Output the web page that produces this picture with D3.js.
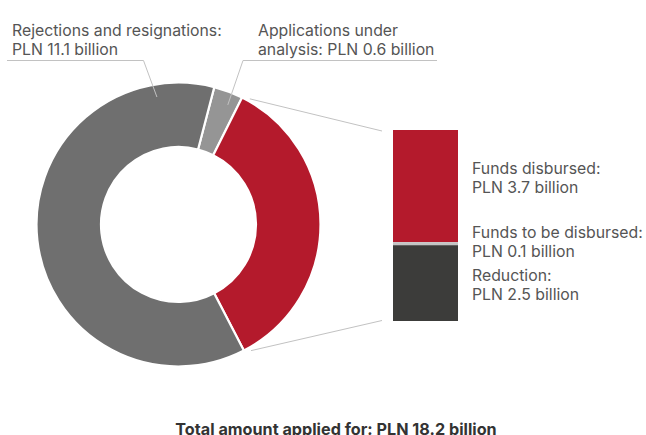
<!DOCTYPE html>
<html>
<head>
<meta charset="utf-8">
<script src="https://cdn.jsdelivr.net/npm/d3@7"></script>
<style>
  html, body { margin: 0; padding: 0; background: #fff; }
  svg { display: block; font-family: Inter, "Noto Sans", sans-serif; }
</style>
</head>
<body>
<svg id="chart" width="646" height="435"></svg>
<script>
// Breakdown of the amount applied for (PLN billion)
const donutCategories = ["Applications under analysis", "Approved", "Rejections and resignations"];
const barCategories = ["Funds disbursed", "Funds to be disbursed", "Reduction"];
const barValues = [3.7, 0.1, 2.5];
const donutValues = [0.6, d3.sum(barValues), 11.1];
const donutLabels = [
  ["Applications under", "analysis: PLN 0.6 billion"],
  null,
  ["Rejections and resignations:", "PLN 11.1 billion"]
];
const barLabels = [
  ["Funds disbursed:", "PLN 3.7 billion"],
  ["Funds to be disbursed:", "PLN 0.1 billion"],
  ["Reduction:", "PLN 2.5 billion"]
];
const totalLabel = "Total amount applied for: PLN 18.2 billion";

const donutColors = ["#959595", "#b41a2c", "#6f6f6f"];
const barColors = ["#b41a2c", "#c4c4c4", "#3c3c3a"];
const textColor = "#555555";
const ruleColor = "#c2c2c2";
const labelSize = 15.8;

const svg = d3.select("#chart");
const cx = 178.5, cy = 224.5, rOuter = 142, rInner = 77.5;
const deg = Math.PI / 180;
const start = 14.6 * deg;

const pie = d3.pie().sort(null).startAngle(start).endAngle(start + 2 * Math.PI);
const arcs = pie(donutValues);
const arc = d3.arc().innerRadius(rInner).outerRadius(rOuter);

const g = svg.append("g").attr("transform", `translate(${cx},${cy})`);
g.selectAll("path")
  .data(arcs)
  .join("path")
  .attr("d", arc)
  .attr("fill", (d, i) => donutColors[i])
  .attr("stroke", "#fff")
  .attr("stroke-width", 2.2)
  .attr("stroke-linejoin", "miter");

// Stacked bar detailing the approved slice
const bx0 = 393, bx1 = 458, by0 = 130, by1 = 321;
const y = d3.scaleLinear().domain([0, d3.sum(barValues)]).range([by0, by1]);
let acc = 0;
const stack = barValues.map(v => { const s = { y0: acc, y1: acc + v }; acc += v; return s; });
svg.selectAll("rect.seg")
  .data(stack)
  .join("rect")
  .attr("class", "seg")
  .attr("x", bx0)
  .attr("width", bx1 - bx0)
  .attr("y", d => y(d.y0))
  .attr("height", d => y(d.y1) - y(d.y0))
  .attr("fill", (d, i) => barColors[i]);

// Connector lines from the approved slice to the bar
const approved = arcs[1];
const polar = (a, r) => [cx + r * Math.sin(a), cy - r * Math.cos(a)];
const pTop = polar(approved.startAngle + 3.0 * deg, rOuter + 2.5);
const pBot = polar(approved.endAngle - 2.5 * deg, rOuter + 3.5);
svg.append("line")
  .attr("x1", pTop[0]).attr("y1", pTop[1])
  .attr("x2", bx0 - 11).attr("y2", y(0) + 1)
  .attr("stroke", ruleColor).attr("stroke-width", 1);
svg.append("line")
  .attr("x1", pBot[0]).attr("y1", pBot[1])
  .attr("x2", bx0 - 11).attr("y2", y(d3.sum(barValues)) - 0.5)
  .attr("stroke", ruleColor).attr("stroke-width", 1);

// Left callout labels with leader lines
const callouts = [
  { idx: 2, x: 12, ruleX0: 7, ruleX1: 143.5, angle: 350.4 * deg },
  { idx: 0, x: 258, ruleX0: 243, ruleX1: 437, angle: 22.4 * deg }
];
const ruleY = 60.5;
callouts.forEach(c => {
  const lines = donutLabels[c.idx];
  const t = svg.append("text")
    .attr("font-size", labelSize)
    .attr("fill", textColor);
  lines.forEach((s, k) => t.append("tspan").attr("x", c.x).attr("y", 36 + k * 19).text(s));
  svg.append("line")
    .attr("x1", c.ruleX0).attr("y1", ruleY)
    .attr("x2", c.ruleX1).attr("y2", ruleY)
    .attr("stroke", ruleColor).attr("stroke-width", 1);
  const end = polar(c.angle, 129.3);
  const anchorX = c.idx === 2 ? c.ruleX1 : c.ruleX0;
  svg.append("line")
    .attr("x1", anchorX).attr("y1", ruleY)
    .attr("x2", end[0]).attr("y2", end[1])
    .attr("stroke", ruleColor).attr("stroke-width", 1);
});

// Bar labels
const barLabelY = [174, 238, 281];
barLabels.forEach((lines, i) => {
  const t = svg.append("text")
    .attr("font-size", labelSize)
    .attr("fill", textColor);
  lines.forEach((s, k) => t.append("tspan").attr("x", 472).attr("y", barLabelY[i] + k * 19).text(s));
});

// Total
svg.append("text")
  .attr("x", 336).attr("y", 434.5)
  .attr("text-anchor", "middle")
  .attr("font-size", 16.2)
  .attr("font-weight", 700)
  .attr("fill", "#333333")
  .text(totalLabel);
</script>
</body>
</html>
